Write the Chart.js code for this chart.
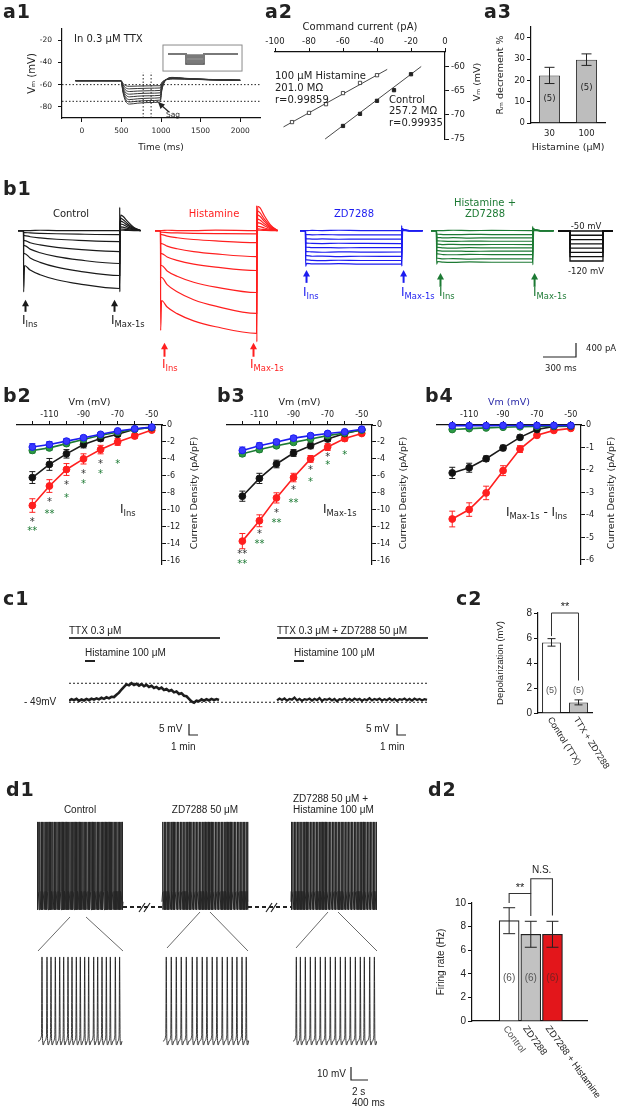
<!DOCTYPE html>
<html>
<head>
<meta charset="utf-8">
<script src="https://cdn.jsdelivr.net/npm/chart.js@4.4.1/dist/chart.umd.min.js"></script>
<style>
html, body { margin: 0; padding: 0; background: #fff; }
#stage { position: relative; width: 621px; height: 1106px; overflow: hidden; background: #fff; }
#stage canvas { position: absolute; }
.t { position: absolute; white-space: nowrap; line-height: 1; }
.t sub { font-size: 0.7em; vertical-align: -0.35em; }
#deco { position: absolute; left: 0; top: 0; }
</style>
</head>
<body>
<div id="stage"></div>
<script>
// ---------------- data ----------------
// a1 : voltage responses (mV) in TTX, time in ms
const a1Time = [-80, 495, 520, 550, 600, 700, 850, 990, 1010, 1040, 1080, 1150, 1300, 1600, 2000];
const a1Traces = [
  [-56.4, -56.5, -59.0, -60.8, -61.5, -61.3, -61.1, -61.0, -58.0, -56.3, -55.4, -54.9, -55.0, -55.7, -56.3],
  [-56.5, -56.4, -60.2, -62.7, -63.8, -63.5, -63.2, -63.0, -59.0, -56.5, -55.3, -54.7, -54.9, -55.6, -56.2],
  [-56.6, -56.5, -61.4, -64.7, -66.2, -65.8, -65.5, -65.2, -60.1, -56.8, -55.2, -54.5, -54.8, -55.6, -56.2],
  [-56.4, -56.5, -62.6, -66.8, -68.6, -68.1, -67.7, -67.4, -61.2, -57.0, -55.1, -54.3, -54.7, -55.5, -56.1],
  [-56.5, -56.6, -63.8, -68.8, -71.0, -70.4, -70.0, -69.6, -62.3, -57.3, -55.0, -54.1, -54.6, -55.5, -56.1],
  [-56.3, -56.5, -65.0, -70.9, -73.4, -72.8, -72.2, -71.8, -63.4, -57.6, -54.9, -53.9, -54.5, -55.4, -56.0],
  [-56.5, -56.4, -66.1, -72.7, -75.6, -74.9, -74.3, -73.9, -64.5, -57.9, -54.8, -53.7, -54.4, -55.4, -56.0],
  [-56.6, -56.5, -67.0, -74.4, -77.5, -76.7, -76.1, -75.6, -65.4, -58.2, -54.7, -53.5, -54.3, -55.3, -56.0]
];
const a1RefV = [-60, -75];          // dotted horizontal levels
const a1RefT = [775, 875];          // dotted vertical times
const a1InsetTime = [1088, 1316, 1316, 1543, 1543, 1972];
const a1InsetLevels = [-33.5, -34.6, -35.8, -36.9, -38.1, -39.2, -40.4, -41.5];
const a1InsetBase = -32.5;

// a2 : V-I relation
const a2HisI = [-90, -80, -70, -60, -50, -40];
const a2HisV = [-71.5, -69.6, -67.8, -65.5, -63.4, -61.8];
const a2CtrlI = [-60, -50, -40, -30, -20];
const a2CtrlV = [-72.3, -69.8, -67.1, -64.9, -61.6];
const a2HisFitI = [-95, -34];
const a2HisFitV = [-72.5, -60.6];
const a2CtrlFitI = [-70.5, -14];
const a2CtrlFitV = [-75.0, -60.0];

// a3 : Rm decrement
const a3Groups = ['30', '100'];
const a3Mean = [22.3, 29.7];
const a3Err = [3.8, 2.7];

// b1 : current traces (pA), time in ms
const b1Time = [-50, 0, 1, 10, 60, 150, 300, 500, 870, 871, 872, 880, 900, 940, 1000, 1060];
const b1Control = [
  [0, 0, 0, 0, 0, 10, 0, 0, 0, 0, 0, 10, 10, 5, 0, 0],
  [0, 0, -70, -70, -84, -98, -113, -126, -140, -140, 30, 55, 50, 30, 10, 0],
  [0, 0, -175, -175, -217, -259, -305, -343, -385, -385, 70, 130, 120, 75, 25, 0],
  [0, 0, -350, -350, -427, -504, -589, -658, -735, -735, 130, 230, 210, 130, 45, 0],
  [0, 0, -525, -525, -651, -777, -916, -1029, -1155, -1155, 190, 330, 300, 190, 65, 0],
  [0, 0, -805, -805, -959, -1113, -1282, -1421, -1575, -1575, 250, 430, 390, 250, 85, 0],
  [0, 0, -2150, -1225, -1386, -1547, -1724, -1869, -2030, 820, -2150, 540, 500, 330, 110, 0]
];
const b1Histamine = [
  [0, 0, 0, 0, 10, 0, 0, 15, 0, 0, 0, 15, 10, 5, 0, 0],
  [0, 0, -60, -60, -72, -84, -97, -108, -120, -120, 40, 60, 55, 35, 10, 0],
  [0, 0, -140, -140, -196, -252, -314, -364, -420, -420, 100, 150, 140, 90, 30, 0],
  [0, 0, -455, -455, -546, -637, -737, -819, -910, -910, 180, 280, 260, 170, 55, 0],
  [0, 0, -805, -805, -924, -1043, -1174, -1281, -1400, -1400, 260, 400, 370, 240, 80, 0],
  [0, 0, -1225, -1225, -1414, -1603, -1811, -1981, -2170, -2170, 350, 540, 500, 320, 110, 0],
  [0, 0, -1645, -1645, -1896, -2147, -2423, -2649, -2900, -2900, 450, 680, 630, 400, 140, 0],
  [0, 0, -3500, -2450, -2680, -2910, -3163, -3370, -3600, 880, -3900, 850, 800, 520, 180, 0]
];
const b1ZD = [
  [0, 0, 0, 0, 5, 0, 10, 0, 0, 0, 0, 0, 0, 0, 0, 0],
  [0, 0, -140, -140, -150, -145, -150, -155, -150, -150, 20, 10, 5, 0, 0, 0],
  [0, 0, -290, -290, -300, -295, -305, -300, -300, -300, 30, 15, 5, 0, 0, 0],
  [0, 0, -440, -440, -450, -455, -445, -450, -455, -455, 40, 20, 10, 0, 0, 0],
  [0, 0, -585, -585, -600, -595, -605, -600, -600, -600, 50, 25, 10, 0, 0, 0],
  [0, 0, -735, -735, -750, -760, -745, -755, -750, -750, 60, 30, 10, 0, 0, 0],
  [0, 0, -880, -880, -900, -895, -910, -900, -905, -905, 70, 35, 15, 0, 0, 0],
  [0, 0, -1030, -1030, -1045, -1055, -1040, -1050, -1050, -1050, 80, 40, 15, 0, 0, 0],
  [0, 0, -1250, -1150, -1165, -1170, -1160, -1175, -1170, 180, -1250, 60, 20, 0, 0, 0]
];
const b1ZDHis = [
  [0, 0, 0, 0, 0, 10, 0, 5, 0, 0, 0, 0, 0, 0, 0, 0],
  [0, 0, -130, -130, -140, -145, -135, -140, -140, -140, 20, 10, 5, 0, 0, 0],
  [0, 0, -245, -245, -257, -250, -262, -255, -257, -257, 25, 15, 5, 0, 0, 0],
  [0, 0, -360, -360, -373, -380, -368, -375, -373, -373, 35, 20, 10, 0, 0, 0],
  [0, 0, -475, -475, -490, -485, -495, -488, -490, -490, 45, 25, 10, 0, 0, 0],
  [0, 0, -590, -590, -607, -615, -600, -610, -607, -607, 55, 30, 10, 0, 0, 0],
  [0, 0, -705, -705, -723, -718, -730, -720, -723, -723, 65, 35, 15, 0, 0, 0],
  [0, 0, -820, -820, -840, -848, -835, -842, -840, -840, 75, 40, 15, 0, 0, 0],
  [0, 0, -970, -970, -992, -985, -998, -990, -992, -992, 85, 45, 15, 0, 0, 0],
  [0, 0, -1180, -1085, -1108, -1115, -1100, -1110, -1108, 150, -1200, 60, 20, 0, 0, 0]
];
const protoTime = [-316, 0, 0, 870, 870, 1134];
const protoLevels = [-50, -60, -70, -80, -90, -100, -110, -120];

// b2-b4 : current density (pA/pF) vs Vm
const vm = [-120, -110, -100, -90, -80, -70, -60, -50];
const b2Ctrl = [-6.2, -4.65, -3.4, -2.3, -1.6, -1.1, -0.5, -0.3];
const b2CtrlErr = [0.7, 0.7, 0.5, 0.4, 0.3, 0.25, 0.2, 0.15];
const b2His = [-9.5, -7.2, -5.25, -4.0, -2.9, -2.0, -1.3, -0.6];
const b2HisErr = [0.8, 0.75, 0.7, 0.6, 0.5, 0.4, 0.3, 0.2];
const b2ZD = [-2.6, -2.3, -1.9, -1.5, -1.1, -0.7, -0.45, -0.25];
const b2ZDErr = [0.4, 0.35, 0.3, 0.25, 0.2, 0.15, 0.1, 0.1];
const b2ZDHis = [-3.0, -2.7, -2.2, -1.7, -1.2, -0.85, -0.5, -0.3];
const b2ZDHisErr = [0.3, 0.3, 0.25, 0.2, 0.2, 0.15, 0.1, 0.1];
const b2StarsK = [[-120, -11.5, '*'], [-110, -9.1, '*'], [-100, -7.1, '*'], [-90, -5.8, '*'], [-80, -4.6, '*']];
const b2StarsG = [[-120, -12.6, '**'], [-110, -10.6, '**'], [-100, -8.7, '*'], [-90, -7.0, '*'], [-80, -5.8, '*'], [-70, -4.6, '*']];

const b3Ctrl = [-8.4, -6.3, -4.6, -3.3, -2.45, -1.65, -1.0, -0.55];
const b3CtrlErr = [0.6, 0.6, 0.45, 0.4, 0.35, 0.3, 0.2, 0.15];
const b3His = [-13.7, -11.3, -8.6, -6.2, -4.0, -2.6, -1.6, -1.0];
const b3HisErr = [0.9, 0.7, 0.6, 0.5, 0.4, 0.4, 0.3, 0.2];
const b3ZD = [-3.0, -2.45, -2.0, -1.55, -1.25, -1.0, -0.8, -0.5];
const b3ZDErr = [0.4, 0.35, 0.3, 0.3, 0.25, 0.2, 0.15, 0.1];
const b3ZDHis = [-3.4, -2.9, -2.45, -2.05, -1.65, -1.25, -0.95, -0.6];
const b3ZDHisErr = [0.3, 0.3, 0.25, 0.25, 0.2, 0.2, 0.15, 0.1];
const b3StarsK = [[-120, -15.3, '**'], [-110, -12.9, '*'], [-100, -10.4, '*'], [-90, -7.7, '*'], [-80, -5.4, '*'], [-70, -3.8, '*']];
const b3StarsG = [[-120, -16.5, '**'], [-110, -14.1, '**'], [-100, -11.6, '**'], [-90, -9.25, '**'], [-80, -6.8, '*'], [-70, -4.8, '*'], [-60, -3.6, '*']];

const b4Ctrl = [-2.13, -1.9, -1.5, -1.02, -0.55, -0.2, -0.06, -0.05];
const b4CtrlErr = [0.25, 0.2, 0.12, 0.12, 0.1, 0.06, 0.04, 0.03];
const b4His = [-4.18, -3.76, -3.02, -2.03, -1.07, -0.46, -0.24, -0.15];
const b4HisErr = [0.35, 0.3, 0.3, 0.22, 0.15, 0.1, 0.06, 0.05];
const b4ZD = [-0.03, -0.03, -0.03, -0.02, -0.02, -0.02, -0.02, -0.02];
const b4ZDErr = [0.03, 0.03, 0.03, 0.02, 0.02, 0.02, 0.02, 0.02];
const b4ZDHis = [-0.2, -0.16, -0.13, -0.1, -0.08, -0.06, -0.05, -0.04];
const b4ZDHisErr = [0.04, 0.04, 0.03, 0.03, 0.02, 0.02, 0.02, 0.02];

// c1 : membrane potential (mV) vs minutes (0.25 min samples)
const c1Time = [0, 0.25, 0.5, 0.75, 1, 1.25, 1.5, 1.75, 2, 2.25, 2.5, 2.75, 3, 3.25, 3.5, 3.75, 4, 4.25, 4.5, 4.75,
  5, 5.25, 5.5, 5.75, 6, 6.25, 6.5, 6.75, 7, 7.25, 7.5, 7.75, 8, 8.25, 8.5, 8.75, 9, 9.25, 9.5, 9.75,
  10, 10.25, 10.5, 10.75, 11, 11.25, 11.5, 11.75, 12, 12.25, 12.5, 12.75, 13, 13.25, 13.5, 13.75, 14, 14.25, 14.5, 14.75, 15];
const c1TTX = [-49.3, -48.7, -49.1, -48.6, -49.4, -48.8, -49.2, -48.6, -49.1, -48.5, -48.9, -48.4, -48.8, -48.2, -48.6, -48.0, -48.4, -47.8, -47.9, -47.0,
  -46.2, -45.0, -44.0, -43.0, -43.4, -42.6, -43.3, -42.8, -43.5, -42.9, -43.7, -43.2, -44.0, -43.6, -44.4, -44.0, -44.8, -44.3, -45.2, -44.8,
  -45.6, -45.2, -46.1, -45.8, -46.7, -46.4, -47.4, -47.6, -48.6, -49.6, -50.1, -49.3, -49.5, -48.8, -49.3, -48.7, -49.2, -48.6, -49.1, -48.7, -49.0];
const c1TTXZD = [-49.2, -48.5, -49.0, -48.4, -49.3, -48.6, -48.9, -48.1, -49.2, -48.6, -49.4, -48.7, -49.0, -48.5, -49.3, -48.6, -49.1, -48.3, -49.4, -48.7,
  -49.0, -48.5, -49.2, -48.6, -49.5, -48.7, -49.0, -48.4, -49.2, -48.6, -49.3, -48.5, -49.0, -48.6, -49.4, -48.7, -49.1, -48.3, -49.2, -48.6,
  -49.0, -48.5, -49.3, -48.7, -49.1, -48.4, -49.2, -48.6, -49.4, -48.7, -49.0, -48.5, -49.2, -48.6, -49.3, -48.5, -49.0, -48.6, -49.2, -48.7, -49.0];
const c1Offset = [0, 20.8];         // start of each recording on the shared time axis
const c1RefV = [-42.6, -49.9];

// c2 : depolarization
const c2Groups = ['Control (TTX)', 'TTX + ZD7288'];
const c2Mean = [5.65, 0.85];
const c2Err = [0.3, 0.2];

// d1 : spike times (s)
const d1RasterCtrl = [0.05, 0.2, 0.33, 0.49, 0.63, 0.8, 0.94, 1.1, 1.24, 1.39, 1.55, 1.7, 1.84, 2.0, 2.15, 2.31, 2.45, 2.6, 2.76, 2.9, 3.06, 3.21, 3.36, 3.5, 3.66, 3.82, 3.96, 4.12, 4.27, 4.41, 4.57, 4.72, 4.88, 5.02, 5.18, 5.33, 5.47, 5.63, 5.78, 5.94, 6.08, 6.24, 6.39, 6.53, 6.69, 6.84, 7.0, 7.14, 7.3, 7.45, 7.59, 7.75, 7.9, 8.06, 8.2, 8.36, 8.51, 8.65, 8.81, 8.96, 9.12, 9.26, 9.42, 9.57, 9.72, 9.88];
const d1RasterZD = [0.08, 0.25, 0.41, 0.59, 0.76, 0.92, 1.1, 1.27, 1.43, 1.61, 1.78, 1.94, 2.12, 2.29, 2.45, 2.63, 2.8, 2.96, 3.14, 3.31, 3.47, 3.65, 3.82, 3.98, 4.16, 4.33, 4.49, 4.67, 4.84, 5.0, 5.18, 5.35, 5.51, 5.69, 5.86, 6.02, 6.2, 6.37, 6.53, 6.71, 6.88, 7.04, 7.22, 7.39, 7.55, 7.73, 7.9, 8.06, 8.24, 8.41, 8.57, 8.75, 8.92, 9.08, 9.26, 9.43, 9.59, 9.77, 9.93];
const d1RasterZDHis = [0.04, 0.21, 0.38, 0.54, 0.72, 0.89, 1.05, 1.23, 1.4, 1.56, 1.74, 1.91, 2.07, 2.25, 2.42, 2.58, 2.76, 2.93, 3.09, 3.27, 3.44, 3.6, 3.78, 3.95, 4.11, 4.29, 4.46, 4.62, 4.8, 4.97, 5.13, 5.31, 5.48, 5.64, 5.82, 5.99, 6.15, 6.33, 6.5, 6.66, 6.84, 7.01, 7.17, 7.35, 7.52, 7.68, 7.86, 8.03, 8.19, 8.37, 8.54, 8.7, 8.88, 9.05, 9.21, 9.39, 9.56, 9.72, 9.9];
const d1RasterOffset = [0, 14.53, 29.53];
const d1RasterLen = 10;
const d1RasterLv = [-43, 10, -57];          // threshold, peak, trough (mV)
const d1ZoomCtrl = [0.094, 0.212, 0.306, 0.408, 0.51, 0.604, 0.706, 0.80, 0.902, 0.996, 1.098, 1.192, 1.31, 1.404, 1.506, 1.608, 1.702, 1.82, 1.92];
const d1ZoomZD = [0.078, 0.196, 0.314, 0.431, 0.549, 0.69, 0.80, 0.925, 1.035, 1.16, 1.27, 1.396, 1.514, 1.63, 1.74, 1.86, 1.96];
const d1ZoomZDHis = [0.078, 0.173, 0.29, 0.408, 0.525, 0.643, 0.76, 0.878, 0.996, 1.114, 1.231, 1.349, 1.467, 1.584, 1.678, 1.804, 1.914];
const d1ZoomOffset = [0, 2.94, 6.0];
const d1ZoomLen = 1.98;
const d1ZoomLv = [-50, 10, -57, -54];       // threshold, peak, trough, ramp

// d2 : firing rate
const d2Groups = ['Control', 'ZD7288', 'ZD7288 + Histamine'];
const d2Pos = [1, 2, 3];
const d2Mean = [8.5, 7.35, 7.35];
const d2Err = [1.1, 1.1, 1.1];

// ---------------- helpers ----------------
const stage = document.getElementById('stage');
const DJ = '"DejaVu Sans", sans-serif';
const LS = '"Liberation Sans", Arial, sans-serif';
const RED = '#ff1f1f', BLUE = '#1c1cf0', GREEN = '#1d7a34', GREENM = '#2c9a44', INK = '#1a1a1a';

Chart.defaults.font.family = DJ;
Chart.defaults.font.size = 8;
Chart.defaults.color = '#222';
Chart.defaults.animation = false;
Chart.defaults.responsive = false;
Chart.defaults.events = [];
Chart.defaults.layout.autoPadding = false;
Chart.defaults.plugins.legend.display = false;
Chart.defaults.plugins.tooltip.enabled = false;

const pts = (xs, ys, off = 0) => xs.map((x, i) => ({ x: x + off, y: ys[i] }));

function makeCanvas(x, y, w, h) {
  const c = document.createElement('canvas');
  c.width = w; c.height = h;
  c.style.left = x + 'px'; c.style.top = y + 'px';
  c.style.width = w + 'px'; c.style.height = h + 'px';
  stage.appendChild(c);
  return c;
}

function label(html, x, y, o = {}) {
  const d = document.createElement('div');
  d.className = 't';
  d.innerHTML = html;
  const ax = o.align === 'center' ? -50 : (o.align === 'right' ? -100 : 0);
  d.style.left = x + 'px';
  d.style.top = y + 'px';
  d.style.font = (o.bold ? 'bold ' : '') + (o.size || 10) + 'px ' + (o.font || DJ);
  d.style.color = o.color || '#222';
  if (o.ls) d.style.letterSpacing = o.ls + 'px';
  d.style.transform = 'translate(' + ax + '%, -50%)' + (o.rot ? ' rotate(' + o.rot + 'deg)' : '');
  stage.appendChild(d);
}
const sub = (a, b) => a + '<sub>' + b + '</sub>';

function ax(o) {
  const s = {
    type: o.type || 'linear',
    position: o.position,
    min: o.min, max: o.max,
    offset: o.offset,
    border: { display: o.border !== false, color: '#111', width: 1.2 },
    grid: { display: o.grid !== false, drawOnChartArea: false, drawTicks: true, tickLength: 4, color: '#111', tickWidth: 1 },
    ticks: Object.assign({ color: '#222', padding: 2, maxRotation: 0, autoSkip: false, font: { family: DJ, size: 8 }, callback: v => String(v) }, o.ticks || {}),
    title: o.title ? Object.assign({ display: true, color: '#222', font: { family: DJ, size: 9 }, padding: 0 }, o.title) : { display: false },
    afterFit: sc => {
      if (o.w != null) sc.width = o.w;
      if (o.h != null) sc.height = o.h;
      sc.paddingLeft = sc.paddingRight = sc.paddingTop = sc.paddingBottom = 0;
    }
  };
  if (o.type === 'category') delete s.ticks.callback;
  if (o.tickVals) s.afterBuildTicks = sc => { sc.ticks = o.tickVals.map(v => ({ value: v })); };
  Object.keys(s).forEach(k => s[k] === undefined && delete s[k]);
  return s;
}

function drawErr(chart, spec) {
  const ctx = chart.ctx, ys = chart.scales.y;
  chart.data.datasets.forEach((ds, i) => {
    if (!ds.err) return;
    chart.getDatasetMeta(i).data.forEach((el, j) => {
      const d = ds.data[j];
      const v = typeof d === 'object' ? d.y : d;
      const y0 = ys.getPixelForValue(v - ds.err[j]), y1 = ys.getPixelForValue(v + ds.err[j]);
      const c = spec.cap || 3, x = el.x;
      ctx.save();
      ctx.strokeStyle = ds.errColor || ds.borderColor;
      ctx.lineWidth = spec.errWidth || 1;
      ctx.beginPath();
      ctx.moveTo(x, y0); ctx.lineTo(x, y1);
      ctx.moveTo(x - c, y0); ctx.lineTo(x + c, y0);
      ctx.moveTo(x - c, y1); ctx.lineTo(x + c, y1);
      ctx.stroke();
      ctx.restore();
    });
  });
}

// extra marks placed through the chart's own scales
function overlay(spec) {
  return {
    id: 'overlay',
    beforeDatasetsDraw(chart) { if (spec.err && spec.errBefore) drawErr(chart, spec); },
    afterDatasetsDraw(chart) {
      if (spec.err && !spec.errBefore) drawErr(chart, spec);
      const ctx = chart.ctx;
      const X = v => chart.scales.x.getPixelForValue(v), Y = v => chart.scales.y.getPixelForValue(v);
      ctx.save();
      (spec.rects || []).forEach(r => {
        ctx.strokeStyle = r.color; ctx.lineWidth = r.width || 1;
        ctx.strokeRect(X(r.x0), Y(r.y0), X(r.x1) - X(r.x0), Y(r.y1) - Y(r.y0));
      });
      (spec.lines || []).forEach(l => {
        ctx.beginPath();
        l.pts.forEach((p, i) => (i ? ctx.lineTo(X(p[0]), Y(p[1])) : ctx.moveTo(X(p[0]), Y(p[1]))));
        ctx.strokeStyle = l.color || '#222'; ctx.lineWidth = l.width || 1;
        ctx.stroke();
      });
      (spec.arrows || []).forEach(a => {
        const px = X(a.x), p0 = Y(a.y0), p1 = Y(a.y1);
        ctx.strokeStyle = a.color; ctx.fillStyle = a.color; ctx.lineWidth = 2;
        ctx.beginPath(); ctx.moveTo(px, p0); ctx.lineTo(px, p1 + 5); ctx.stroke();
        ctx.beginPath(); ctx.moveTo(px, p1); ctx.lineTo(px - 3.5, p1 + 6.5); ctx.lineTo(px + 3.5, p1 + 6.5); ctx.closePath(); ctx.fill();
      });
      (spec.texts || []).forEach(t => {
        ctx.font = t.font; ctx.fillStyle = t.color || '#222';
        ctx.textAlign = t.align || 'center'; ctx.textBaseline = 'middle';
        ctx.fillText(t.t, X(t.x), Y(t.y));
      });
      (spec.rot || []).forEach(r => {
        ctx.save();
        ctx.translate(X(r.x) + (r.dx || 0), chart.chartArea.bottom + (r.dy || 6));
        ctx.rotate(r.angle * Math.PI / 180);
        ctx.font = r.font; ctx.fillStyle = r.color || '#222';
        ctx.textAlign = 'left'; ctx.textBaseline = 'middle';
        ctx.fillText(r.t, 0, 0);
        ctx.restore();
      });
      ctx.restore();
    }
  };
}

const stars = (list, color) => list.map(s => ({ x: s[0], y: s[1], t: s[2], color, font: '10px ' + DJ }));

// ---------------- a1 ----------------
new Chart(makeCanvas(10, 22, 260, 135), {
  type: 'line',
  data: {
    datasets: [
      ...a1Traces.map(tr => ({ data: pts(a1Time, tr), borderColor: '#333', borderWidth: 1, pointRadius: 0, cubicInterpolationMode: 'monotone' })),
      ...a1RefV.map(v => ({ data: pts([-250, 2250], [v, v]), borderColor: '#222', borderWidth: 1, borderDash: [1.5, 2], pointRadius: 0 })),
      ...a1RefT.map(t => ({ data: pts([t, t], [-90, -49]), borderColor: '#222', borderWidth: 1, borderDash: [1.5, 2], pointRadius: 0 })),
      ...a1InsetLevels.map((lv, i) => ({ data: pts(a1InsetTime, [a1InsetBase, a1InsetBase, lv, lv, a1InsetBase, a1InsetBase]), borderColor: i === a1InsetLevels.length - 1 ? '#444' : '#7a7a7a', borderWidth: 1.6, pointRadius: 0 }))
    ]
  },
  options: {
    layout: { padding: { left: 0, top: 7, right: 10, bottom: 0 } },
    scales: {
      x: ax({ min: -250, max: 2250, h: 39, tickVals: [0, 500, 1000, 1500, 2000], ticks: { padding: 5, font: { family: DJ, size: 7.5 } }, title: { text: 'Time (ms)', padding: { top: 0, bottom: 4 }, font: { family: DJ, size: 9 } } }),
      y: ax({ min: -90, max: -10, w: 52, tickVals: [-80, -60, -40, -20], ticks: { padding: 6, font: { family: DJ, size: 7.5 } }, title: { text: 'Vₘ (mV)', padding: { top: 16 }, font: { family: DJ, size: 10 } } })
    }
  },
  plugins: [overlay({ rects: [{ x0: 1025, y0: -24.4, x1: 2023, y1: -47.8, color: '#8a8a8a', width: 1 }] })]
});

// ---------------- a2 ----------------
new Chart(makeCanvas(262, 20, 220, 125), {
  type: 'line',
  data: {
    datasets: [
      { data: pts(a2HisI, a2HisV), showLine: false, pointStyle: 'rect', pointRadius: 2.3, pointBackgroundColor: '#fff', pointBorderColor: '#222', pointBorderWidth: 0.8, clip: false },
      { data: pts(a2CtrlI, a2CtrlV), showLine: false, pointStyle: 'rect', pointRadius: 2.3, pointBackgroundColor: '#222', pointBorderColor: '#222', clip: false },
      { data: pts(a2HisFitI, a2HisFitV), borderColor: '#333', borderWidth: 0.9, pointRadius: 0, clip: false },
      { data: pts(a2CtrlFitI, a2CtrlFitV), borderColor: '#333', borderWidth: 0.9, pointRadius: 0, clip: false }
    ]
  },
  options: {
    layout: { padding: { left: 13, top: 0, right: 0, bottom: 6 } },
    scales: {
      x: ax({ position: 'top', min: -100, max: 0, h: 32, tickVals: [-100, -80, -60, -40, -20, 0], ticks: { padding: 1, font: { family: DJ, size: 8.5 } }, title: { text: 'Command current (pA)', padding: { top: 1, bottom: 0 }, font: { family: DJ, size: 10 } } }),
      y: ax({ position: 'right', min: -75, max: -57, w: 37, tickVals: [-75, -70, -65, -60], ticks: { padding: 2, font: { family: DJ, size: 8.5 } } })
    }
  }
});

// ---------------- a3 ----------------
new Chart(makeCanvas(480, 20, 141, 135), {
  type: 'bar',
  data: {
    labels: a3Groups,
    datasets: [{ data: a3Mean, err: a3Err, backgroundColor: '#bdbdbd', borderColor: '#333', borderWidth: 1, errColor: '#222', barPercentage: 0.57, categoryPercentage: 1 }]
  },
  options: {
    layout: { padding: { left: 0, top: 7, right: 16, bottom: 0 } },
    scales: {
      x: ax({ type: 'category', h: 32, grid: false, ticks: { padding: 2, font: { family: DJ, size: 8.5 } }, title: { text: 'Histamine (μM)', padding: { top: 0, bottom: 2 }, font: { family: DJ, size: 9.5 } } }),
      y: ax({ min: 0, max: 45, w: 51, tickVals: [0, 10, 20, 30, 40], ticks: { padding: 2, font: { family: DJ, size: 8.5 } }, title: { text: 'Rₘ decrement %', padding: { top: 15 }, font: { family: DJ, size: 9.5 } } })
    }
  },
  plugins: [overlay({ err: true, cap: 5, texts: [{ x: 0, y: 11.2, t: '(5)', font: '8.5px ' + DJ }, { x: 1, y: 16.3, t: '(5)', font: '8.5px ' + DJ }] })]
});

// ---------------- b1 ----------------
function traceChart(left, traces, color, arrowT, arrowPA) {
  new Chart(makeCanvas(left, 202, 127, 177), {
    type: 'line',
    data: { datasets: traces.map(tr => ({ data: pts(b1Time, tr), borderColor: color, borderWidth: 1.2, pointRadius: 0, cubicInterpolationMode: 'monotone', clip: false })) },
    options: {
      layout: { padding: 0 },
      scales: { x: { type: 'linear', display: false, min: -50, max: 1100 }, y: { display: false, min: -5200, max: 1000 } }
    },
    plugins: [overlay({ arrows: arrowT.map(t => ({ x: t, y0: arrowPA[0], y1: arrowPA[1], color })) })]
  });
}
traceChart(17.5, b1Control, INK, [18, 824], [-2846, -2427]);
traceChart(154.5, b1Histamine, RED, [36, 842], [-4420, -3930]);
traceChart(299.5, b1ZD, BLUE, [9, 888], [-1832, -1378]);
traceChart(430.5, b1ZDHis, GREEN, [36, 888], [-1972, -1483]);

new Chart(makeCanvas(558, 220, 55, 50), {
  type: 'line',
  data: { datasets: protoLevels.map(lv => ({ data: pts(protoTime, [-50, -50, lv, lv, -50, -50]), borderColor: '#111', borderWidth: 1.3, pointRadius: 0, clip: false })) },
  options: { layout: { padding: 0 }, scales: { x: { type: 'linear', display: false, min: -316, max: 1134 }, y: { display: false, min: -141, max: -24.4 } } }
});

// ---------------- b2 - b4 ----------------
function ivChart(left, width, rightW, ymin, yTicks, sets, starList, xTitleColor) {
  const mk = (vals, errs, c, m) => ({ data: pts(vm, vals), err: errs, borderColor: c, errColor: c, backgroundColor: m, pointBackgroundColor: m, pointBorderColor: c, pointRadius: 3.4, pointBorderWidth: 1, borderWidth: 1.6, clip: false });
  new Chart(makeCanvas(left, 392, width, 178), {
    type: 'line',
    data: {
      datasets: [
        mk(sets[2], sets[3], BLUE, '#3a3aff'),
        mk(sets[6], sets[7], GREEN, GREENM),
        mk(sets[0], sets[1], INK, '#111'),
        mk(sets[4], sets[5], RED, RED)
      ]
    },
    options: {
      layout: { padding: { left: 17, top: 0, right: 0, bottom: 6 } },
      scales: {
        x: ax({ position: 'top', min: -129, max: -44, h: 33, tickVals: vm, ticks: { padding: 1, font: { family: DJ, size: 8 }, callback: v => ([-110, -90, -70, -50].includes(v) ? String(v) : '') }, title: { text: 'Vm (mV)', color: xTitleColor || '#222', padding: { top: 5, bottom: 0 }, font: { family: DJ, size: 9.5 } } }),
        y: ax({ position: 'right', min: ymin, max: 0, w: rightW, tickVals: yTicks, ticks: { padding: 1, font: { family: DJ, size: 8 } } })
      }
    },
    plugins: [overlay({ err: true, errBefore: true, cap: 3, texts: starList })]
  });
}
const evenTicks = [0, -2, -4, -6, -8, -10, -12, -14, -16];
ivChart(0, 205, 43, -16.4, evenTicks, [b2Ctrl, b2CtrlErr, b2ZD, b2ZDErr, b2His, b2HisErr, b2ZDHis, b2ZDHisErr], [...stars(b2StarsK, '#333'), ...stars(b2StarsG, GREEN)]);
ivChart(210, 205, 43, -16.4, evenTicks, [b3Ctrl, b3CtrlErr, b3ZD, b3ZDErr, b3His, b3HisErr, b3ZDHis, b3ZDHisErr], [...stars(b3StarsK, '#333'), ...stars(b3StarsG, GREEN)]);
ivChart(420, 201, 40, -6.18, [0, -1, -2, -3, -4, -5, -6], [b4Ctrl, b4CtrlErr, b4ZD, b4ZDErr, b4His, b4HisErr, b4ZDHis, b4ZDHisErr], [], '#2a2aa8');

// ---------------- c1 ----------------
new Chart(makeCanvas(69, 670, 360, 45), {
  type: 'line',
  data: {
    datasets: [
      { data: pts(c1Time, c1TTX, c1Offset[0]), borderColor: '#1e1e1e', borderWidth: 2.6, pointRadius: 0 },
      { data: pts(c1Time, c1TTXZD, c1Offset[1]), borderColor: '#1e1e1e', borderWidth: 2.2, pointRadius: 0 },
      ...c1RefV.map(v => ({ data: pts([0, 35.9], [v, v]), borderColor: '#222', borderWidth: 1, borderDash: [2, 2], pointRadius: 0 }))
    ]
  },
  options: { layout: { padding: 0 }, scales: { x: { type: 'linear', display: false, min: 0, max: 36 }, y: { display: false, min: -54.8, max: -37.5 } } }
});

// ---------------- c2 ----------------
new Chart(makeCanvas(490, 600, 131, 200), {
  type: 'bar',
  data: {
    labels: c2Groups,
    datasets: [{ data: c2Mean, err: c2Err, backgroundColor: ['#ffffff', '#c0c0c0'], borderColor: '#222', borderWidth: 1.1, errColor: '#222', barPercentage: 0.7, categoryPercentage: 1 }]
  },
  options: {
    layout: { padding: { left: 0, top: 13, right: 29, bottom: 0 } },
    scales: {
      x: ax({ type: 'category', h: 87, grid: false, ticks: { display: false } }),
      y: ax({ min: 0, max: 8, w: 48, tickVals: [0, 2, 4, 6, 8], ticks: { padding: 2, font: { family: LS, size: 10 } }, title: { text: 'Depolarization (mV)', padding: { top: 5 }, font: { family: LS, size: 9.5 } } })
    }
  },
  plugins: [overlay({
    err: true, cap: 4,
    lines: [{ pts: [[0, 6.15], [0, 8.0], [1, 8.0], [1, 2.6]], color: '#333', width: 1 }],
    texts: [
      { x: 0.5, y: 8.5, t: '**', font: '11px ' + LS },
      { x: 0, y: 1.8, t: '(5)', font: '9px ' + LS, color: '#555' },
      { x: 1, y: 1.8, t: '(5)', font: '9px ' + LS, color: '#555' }
    ],
    rot: [
      { x: 0, dx: -2, dy: 5, t: c2Groups[0], angle: 58, font: '9px ' + LS },
      { x: 1, dx: -3, dy: 5, t: c2Groups[1], angle: 58, font: '9px ' + LS }
    ]
  })]
});

// ---------------- d1 ----------------
function rasterPts(times, off) {
  const out = [{ x: off, y: d1RasterLv[0] - 8 }];
  times.forEach(t => out.push({ x: off + t, y: d1RasterLv[0] }, { x: off + t + 0.012, y: d1RasterLv[1] }, { x: off + t + 0.04, y: d1RasterLv[2] }));
  out.push({ x: off + d1RasterLen, y: d1RasterLv[0] - 8 });
  return out;
}
function burstPts(times, off) {
  const lv = d1ZoomLv;
  const out = [{ x: off, y: lv[3] }];
  times.forEach(t => out.push({ x: off + t - 0.012, y: lv[0] }, { x: off + t, y: lv[1] }, { x: off + t + 0.012, y: lv[0] - 2 }, { x: off + t + 0.03, y: lv[2] }, { x: off + t + 0.06, y: lv[3] }));
  out.push({ x: off + d1ZoomLen, y: lv[3] });
  return out;
}
new Chart(makeCanvas(37, 815, 340, 100), {
  type: 'line',
  data: { datasets: [d1RasterCtrl, d1RasterZD, d1RasterZDHis].map((tm, i) => ({ data: rasterPts(tm, d1RasterOffset[i]), borderColor: '#262626', borderWidth: 1, pointRadius: 0, clip: false })) },
  options: { layout: { padding: 0 }, scales: { x: { type: 'linear', display: false, min: 0, max: 39.53 }, y: { display: false, min: -61.1, max: 15.3 } } }
});
new Chart(makeCanvas(38, 950, 339, 100), {
  type: 'line',
  data: { datasets: [d1ZoomCtrl, d1ZoomZD, d1ZoomZDHis].map((tm, i) => ({ data: burstPts(tm, d1ZoomOffset[i]), borderColor: '#222', borderWidth: 0.9, pointRadius: 0, cubicInterpolationMode: 'monotone', clip: false })) },
  options: { layout: { padding: 0 }, scales: { x: { type: 'linear', display: false, min: 0, max: 7.976 }, y: { display: false, min: -60.8, max: 15.3 } } }
});

// ---------------- d2 ----------------
new Chart(makeCanvas(430, 840, 191, 266), {
  type: 'bar',
  data: {
    datasets: [{ data: pts(d2Pos, d2Mean), err: d2Err, backgroundColor: ['#ffffff', '#c2c2c2', '#e3161b'], borderColor: '#222', borderWidth: 1.2, errColor: '#222', barThickness: 20 }]
  },
  options: {
    layout: { padding: { left: 0, top: 63, right: 34, bottom: 0 } },
    scales: {
      x: ax({ min: 0.17, max: 3.71, h: 85, grid: false, ticks: { display: false } }),
      y: ax({ min: 0, max: 10, w: 42, tickVals: [0, 2, 4, 6, 8, 10], ticks: { padding: 2, font: { family: LS, size: 10 } }, title: { text: 'Firing rate (Hz)', padding: { top: 5 }, font: { family: LS, size: 10 } } })
    }
  },
  plugins: [overlay({
    err: true, cap: 6,
    lines: [
      { pts: [[1, 10.0], [1, 10.8], [2, 10.8], [2, 8.9]], color: '#333', width: 1.1 },
      { pts: [[2, 10.8], [2, 12.06], [3, 12.06], [3, 8.95]], color: '#333', width: 1.1 }
    ],
    texts: [
      { x: 1.5, y: 11.3, t: '**', font: '11px ' + LS },
      { x: 2.5, y: 12.75, t: 'N.S.', font: '10px ' + LS },
      { x: 1, y: 3.65, t: '(6)', font: '10px ' + LS, color: '#555' },
      { x: 2, y: 3.65, t: '(6)', font: '10px ' + LS, color: '#555' },
      { x: 3, y: 3.65, t: '(6)', font: '10px ' + LS, color: '#7a2020' }
    ],
    rot: [
      { x: 1, dx: -4, dy: 6, t: d2Groups[0], angle: 54, font: '9.5px ' + LS, color: '#555' },
      { x: 2, dx: -6, dy: 6, t: d2Groups[1], angle: 54, font: '9.5px ' + LS },
      { x: 3, dx: -5, dy: 6, t: d2Groups[2], angle: 54, font: '9.5px ' + LS }
    ]
  })]
});

// ---------------- decorations (scale bars, drug bars, connectors) ----------------
stage.insertAdjacentHTML('beforeend', `
<svg id="deco" width="621" height="1106" xmlns="http://www.w3.org/2000/svg" fill="none" stroke="#222">
  <line x1="169" y1="112" x2="161" y2="105" stroke-width="1.2"/>
  <polygon points="158,102 165,104.5 160.5,109" fill="#222" stroke="none"/>
  <polyline points="576,343 576,357 543,357" stroke-width="1.2"/>
  <line x1="69" y1="638" x2="220" y2="638" stroke="#3a3a3a" stroke-width="2"/>
  <line x1="277" y1="638" x2="428" y2="638" stroke="#3a3a3a" stroke-width="2"/>
  <line x1="85" y1="661" x2="95" y2="661" stroke-width="2"/>
  <line x1="294" y1="661" x2="304" y2="661" stroke-width="2"/>
  <polyline points="189,724 189,735 198,735" stroke-width="1.2"/>
  <polyline points="397,724 397,735 406,735" stroke-width="1.2"/>
  <line x1="123" y1="907" x2="162" y2="907" stroke-width="2" stroke-dasharray="4,3"/>
  <line x1="248" y1="907" x2="291" y2="907" stroke-width="2" stroke-dasharray="4,3"/>
  <line x1="139" y1="912" x2="145" y2="903" stroke-width="1.2"/>
  <line x1="144" y1="912" x2="150" y2="903" stroke-width="1.2"/>
  <line x1="266" y1="912" x2="272" y2="903" stroke-width="1.2"/>
  <line x1="271" y1="912" x2="277" y2="903" stroke-width="1.2"/>
  <g stroke="#444" stroke-width="0.8">
    <line x1="70" y1="917" x2="38" y2="951"/><line x1="86" y1="917" x2="123" y2="951"/>
    <line x1="200" y1="912" x2="167" y2="948"/><line x1="210" y1="912" x2="248" y2="951"/>
    <line x1="328" y1="912" x2="296" y2="948"/><line x1="338" y1="912" x2="377" y2="951"/>
  </g>
  <polyline points="351,1067 351,1080 368,1080" stroke-width="1.2"/>
</svg>`);

// ---------------- text ----------------
const P = { bold: true, size: 19, ls: 1 };
[['a1', 3, 11], ['a2', 265, 11], ['a3', 484, 11], ['b1', 3, 188], ['b2', 3, 395], ['b3', 217, 395], ['b4', 425, 395],
 ['c1', 3, 598], ['c2', 456, 598], ['d1', 6, 789], ['d2', 428, 789]].forEach(p => label(p[0], p[1], p[2], P));

label('In 0.3 μM TTX', 74, 38, { size: 10 });
label('Sag', 166, 114, { size: 7.5 });
label('100 μM Histamine', 275, 75, { size: 10 });
label('201.0 MΩ', 275, 87, { size: 10 });
label('r=0.99859', 275, 99, { size: 10 });
label('Control', 389, 99, { size: 10 });
label('257.2 MΩ', 389, 110, { size: 10 });
label('r=0.99935', 389, 122, { size: 10 });
label('Vₘ (mV)', 476, 82, { size: 9.5, align: 'center', rot: -90 });

label('Control', 71, 213, { size: 10, align: 'center' });
label('Histamine', 214, 213, { size: 10, align: 'center', color: RED });
label('ZD7288', 354, 213, { size: 10, align: 'center', color: BLUE });
label('Histamine +', 485, 202, { size: 10, align: 'center', color: GREEN });
label('ZD7288', 485, 213, { size: 10, align: 'center', color: GREEN });
label('-50 mV', 586, 226, { size: 8.5, align: 'center' });
label('-120 mV', 586, 271, { size: 8.5, align: 'center' });
label('400 pA', 586, 348, { size: 8.5 });
label('300 ms', 545, 368, { size: 8.5 });
label(sub('I', 'Ins'), 22, 321, { size: 12, color: INK });
label(sub('I', 'Max-1s'), 111, 321, { size: 12, color: INK });
label(sub('I', 'Ins'), 162, 365, { size: 12, color: RED });
label(sub('I', 'Max-1s'), 250, 365, { size: 12, color: RED });
label(sub('I', 'Ins'), 303, 293, { size: 12, color: BLUE });
label(sub('I', 'Max-1s'), 401, 293, { size: 12, color: BLUE });
label(sub('I', 'Ins'), 439, 293, { size: 12, color: GREEN });
label(sub('I', 'Max-1s'), 533, 293, { size: 12, color: GREEN });

[193, 402, 610].forEach(x => label('Current Density (pA/pF)', x, 493, { size: 9.5, align: 'center', rot: -90 }));
label(sub('I', 'Ins'), 120, 510, { size: 12 });
label(sub('I', 'Max-1s'), 323, 510, { size: 12 });
label(sub('I', 'Max-1s') + ' - ' + sub('I', 'Ins'), 506, 513, { size: 12 });

label('TTX 0.3 μM', 69, 630, { size: 10, font: LS });
label('TTX 0.3 μM + ZD7288 50 μM', 277, 630, { size: 10, font: LS });
label('Histamine 100 μM', 85, 652, { size: 10, font: LS });
label('Histamine 100 μM', 294, 652, { size: 10, font: LS });
label('- 49mV', 24, 701, { size: 10, font: LS });
label('5 mV', 159, 728, { size: 10, font: LS });
label('1 min', 171, 746, { size: 10, font: LS });
label('5 mV', 366, 728, { size: 10, font: LS });
label('1 min', 380, 746, { size: 10, font: LS });

label('Control', 80, 809, { size: 10, font: LS, align: 'center' });
label('ZD7288 50 μM', 205, 809, { size: 10, font: LS, align: 'center' });
label('ZD7288 50 μM +', 293, 798, { size: 10, font: LS });
label('Histamine 100 μM', 293, 809, { size: 10, font: LS });
label('10 mV', 317, 1073, { size: 10, font: LS });
label('2 s', 352, 1091, { size: 10, font: LS });
label('400 ms', 352, 1102, { size: 10, font: LS });
</script>
</body>
</html>
